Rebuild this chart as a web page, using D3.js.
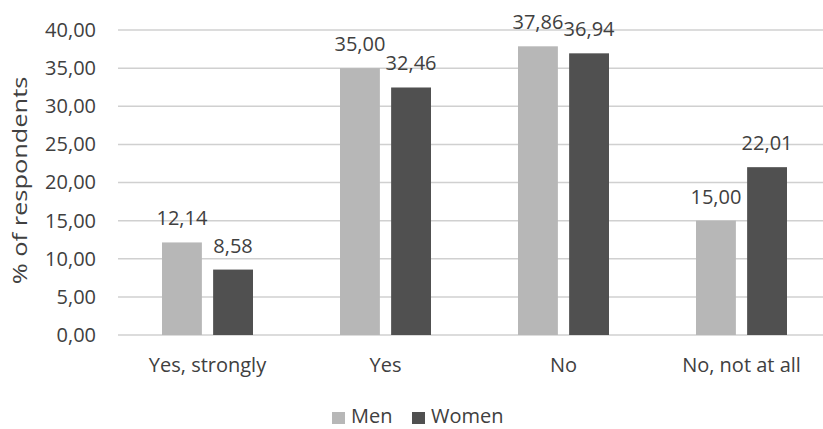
<!DOCTYPE html>
<html><head><meta charset="utf-8">
<script src="https://cdn.jsdelivr.net/npm/d3@7"></script>
<style>body{margin:0;background:#fff}svg{display:block}text{font-family:"Open Sans",sans-serif;fill:#404040}</style>
</head><body>
<script>
const categories = ["Yes, strongly", "Yes", "No", "No, not at all"];
const seriesNames = ["Men", "Women"];
const men = [12.14, 35.00, 37.86, 15.00];
const women = [8.58, 32.46, 36.94, 22.01];
const yTicks = [0, 5, 10, 15, 20, 25, 30, 35, 40];
const colors = {Men: "#b7b7b7", Women: "#505050"};

const W = 823, H = 429, FS = 20;
const svg = d3.select("body").append("svg").attr("width", W).attr("height", H);
const y = d3.scaleLinear().domain([0, 40]).range([335, 30]);
const x = d3.scaleBand().domain(categories).range([118, 830]).paddingInner(0).paddingOuter(0);
const xs = d3.scaleBand().domain(seriesNames).range([44, 135]).paddingInner(0.22);
const fmt = v => v.toFixed(2).replace(".", ",");

// gridlines
svg.append("g").selectAll("line").data(yTicks).join("line")
  .attr("x1", 118).attr("x2", W).attr("y1", d => y(d)).attr("y2", d => y(d))
  .attr("stroke", "#d0d0d0").attr("stroke-width", 1.5);

// y axis labels via axis
const yAxis = svg.append("g").attr("transform", "translate(100,0)")
  .call(d3.axisLeft(y).tickValues(yTicks).tickFormat(fmt).tickSize(0).tickPadding(4));
yAxis.select(".domain").remove();
yAxis.selectAll("text").attr("font-size", FS).style("font-family", "Open Sans").attr("fill", "#404040");

// y title
svg.append("text").attr("transform", "translate(27,180.5) rotate(-90) scale(1.27,1)")
  .attr("text-anchor", "middle").attr("font-size", FS).text("% of respondents");

const data = categories.map((c, i) => ({cat: c, vals: [{s: "Men", v: men[i]}, {s: "Women", v: women[i]}]}));
const g = svg.append("g").selectAll("g").data(data).join("g")
  .attr("transform", d => `translate(${x(d.cat)},0)`);
g.selectAll("rect").data(d => d.vals).join("rect")
  .attr("x", d => xs(d.s)).attr("width", xs.bandwidth())
  .attr("y", d => y(d.v)).attr("height", d => y(0) - y(d.v))
  .attr("fill", d => colors[d.s]);
g.selectAll("text.v").data(d => d.vals).join("text").attr("class", "v")
  .attr("x", d => xs(d.s) + xs.bandwidth() / 2).attr("y", d => y(d.v) - 17)
  .attr("text-anchor", "middle").attr("font-size", FS).text(d => fmt(d.v));

// category labels
svg.append("g").selectAll("text").data(categories).join("text")
  .attr("x", d => x(d) + 89.5).attr("y", 372).attr("text-anchor", "middle")
  .attr("font-size", FS).text(d => d);

// legend
const leg = svg.append("g");
const lx = [332, 412];
seriesNames.forEach((s, i) => {
  leg.append("rect").attr("x", lx[i]).attr("y", 412).attr("width", 13).attr("height", 12).attr("fill", colors[s]);
  leg.append("text").attr("x", lx[i] + 19).attr("y", 423).attr("font-size", FS).text(s);
});
</script>
</body></html>
